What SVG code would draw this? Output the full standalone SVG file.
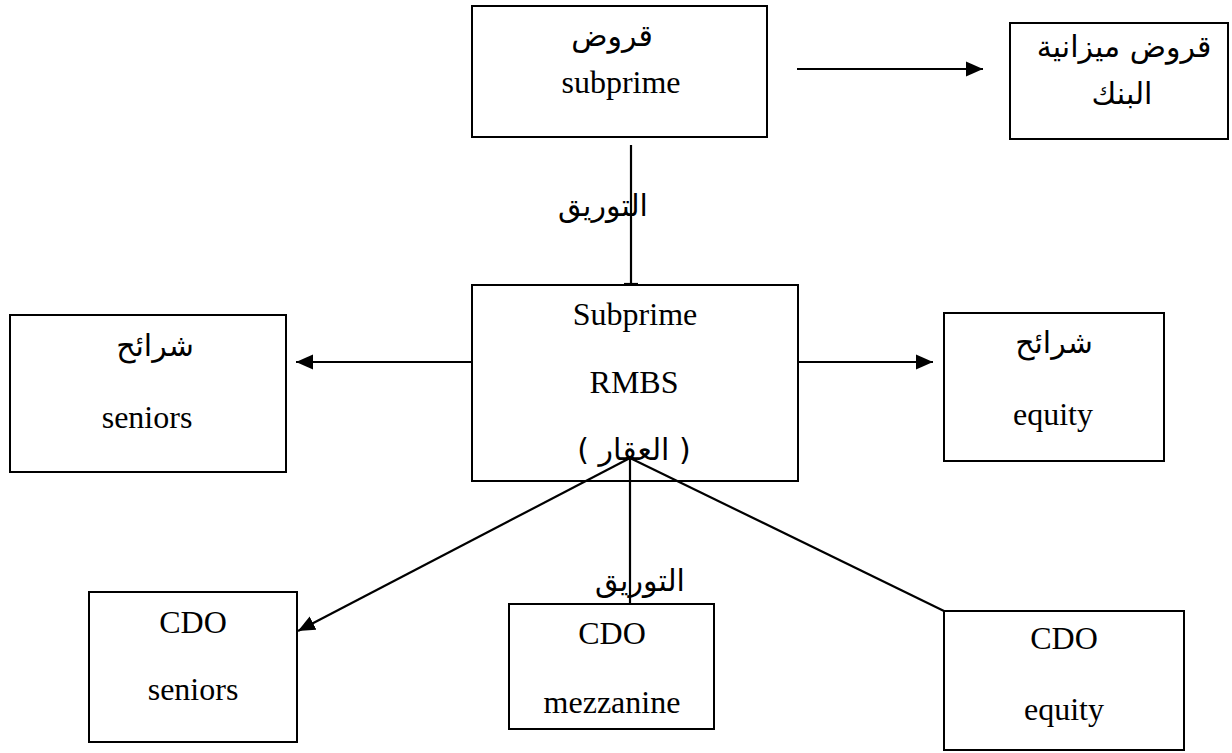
<svg xmlns="http://www.w3.org/2000/svg" width="1232" height="753" viewBox="0 0 1232 753">
<style>
.box{fill:#fff;stroke:#000;stroke-width:2}
.lat{font-family:"Liberation Serif","Times New Roman",serif;font-size:32px;fill:#000;text-anchor:middle}
.ar{font-family:"DejaVu Sans",sans-serif;font-size:30px;fill:#000;text-anchor:middle}
.con{stroke:#000;stroke-width:2.2;fill:none}
</style>
<defs>
<marker id="ah" markerUnits="userSpaceOnUse" markerWidth="18" markerHeight="16" refX="17" refY="8" orient="auto">
<path d="M0,0.5 L17,8 L0,15.5 z" fill="#000"/>
</marker>
</defs>
<rect width="1232" height="753" fill="#fff"/>
<g id="node-subprime-loans">
<rect class="box" x="472" y="6" width="295" height="131"/>
<text class="ar" x="612" y="46">قروض</text>
<text class="lat" x="621" y="93">subprime</text>
</g>
<g id="node-bank">
<rect class="box" x="1010" y="23" width="218" height="116"/>
<text class="ar" x="1124" y="57">قروض ميزانية</text>
<text class="ar" x="1122" y="104">البنك</text>
</g>
<g id="node-rmbs">
<rect class="box" x="472" y="285" width="326" height="196"/>
<text class="lat" x="635" y="325">Subprime</text>
<text class="lat" x="634" y="393">RMBS</text>
<text class="ar" x="634" y="460">( العقار )</text>
</g>
<g id="node-seniors">
<rect class="box" x="10" y="315" width="276" height="157"/>
<text class="ar" x="155" y="356">شرائح</text>
<text class="lat" x="147" y="428">seniors</text>
</g>
<g id="node-equity">
<rect class="box" x="944" y="313" width="220" height="148"/>
<text class="ar" x="1054" y="353">شرائح</text>
<text class="lat" x="1053" y="425">equity</text>
</g>
<g id="node-cdo-seniors">
<rect class="box" x="89" y="592" width="208" height="150"/>
<text class="lat" x="193" y="633">CDO</text>
<text class="lat" x="193" y="700">seniors</text>
</g>
<g id="node-cdo-mezzanine">
<rect class="box" x="509" y="604" width="205" height="125"/>
<text class="lat" x="612" y="644">CDO</text>
<text class="lat" x="612" y="713">mezzanine</text>
</g>
<g id="node-cdo-equity">
<rect class="box" x="944" y="611" width="240" height="139"/>
<text class="lat" x="1064" y="649">CDO</text>
<text class="lat" x="1064" y="720">equity</text>
</g>
<g id="connectors">
<line class="con" x1="797" y1="69" x2="983" y2="69" marker-end="url(#ah)"/>
<line class="con" x1="631" y1="145" x2="631" y2="284"/>
<line class="con" x1="624" y1="284" x2="638" y2="284" stroke-width="3"/>
<line class="con" x1="472" y1="362" x2="296" y2="362" marker-end="url(#ah)"/>
<line class="con" x1="798" y1="362" x2="933" y2="362" marker-end="url(#ah)"/>
<line class="con" x1="630" y1="458" x2="298" y2="631" marker-end="url(#ah)"/>
<line class="con" x1="630" y1="458" x2="630" y2="604"/>
<line class="con" x1="630" y1="458" x2="944" y2="611"/>
<text class="ar" x="603" y="216">التوريق</text>
<text class="ar" x="640" y="591">التوريق</text>
</g>
</svg>
